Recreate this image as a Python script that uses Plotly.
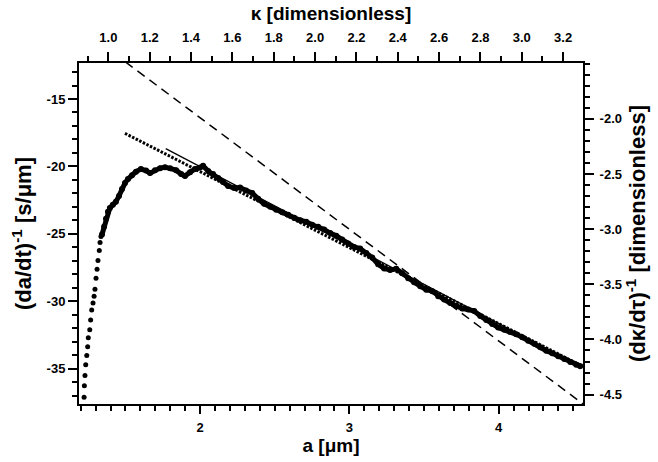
import plotly.graph_objects as go

# ---- data ----
# early, sparsely sampled part of the measured curve
sparse_a = [1.223, 1.225, 1.229, 1.234, 1.241, 1.247, 1.251, 1.261, 1.267, 1.274,
            1.283, 1.290, 1.296, 1.303, 1.310, 1.316, 1.325, 1.330, 1.336]
sparse_y = [-37.13, -36.27, -35.52, -34.71, -34.04, -33.38, -32.72, -32.13, -31.39, -30.66,
            -30.14, -29.63, -29.11, -28.30, -27.64, -26.98, -26.24, -25.65, -25.21]

# densely sampled part of the measured curve
dense_a = [1.343, 1.357, 1.370, 1.383, 1.396, 1.416, 1.436, 1.457, 1.477, 1.497,
           1.517, 1.544, 1.571, 1.604, 1.638, 1.665, 1.698, 1.732, 1.765, 1.799,
           1.839, 1.873, 1.899, 1.933, 1.966, 2.000, 2.020, 2.054, 2.087, 2.121,
           2.154, 2.188, 2.228, 2.268, 2.308, 2.349, 2.389, 2.429, 2.470, 2.510,
           2.550, 2.590, 2.631, 2.671, 2.711, 2.751, 2.791, 2.831, 2.871, 2.912,
           2.952, 2.992, 3.032, 3.072, 3.113, 3.153, 3.193, 3.233, 3.273, 3.314,
           3.354, 3.394, 3.434, 3.475, 3.515, 3.555, 3.595, 3.635, 3.676, 3.716,
           3.756, 3.796, 3.836, 3.877, 3.917, 3.957, 3.997, 4.038, 4.078, 4.118,
           4.158, 4.198, 4.239, 4.279, 4.319, 4.359, 4.399, 4.440, 4.480, 4.520, 4.547]
dense_y = [-25.06, -24.47, -23.89, -23.37, -23.08, -22.85, -22.63, -22.19, -21.67, -21.24,
           -20.94, -20.65, -20.39, -20.20, -20.31, -20.50, -20.28, -20.13, -20.06, -20.13,
           -20.28, -20.57, -20.72, -20.43, -20.20, -20.09, -19.96, -20.35, -20.57, -20.87,
           -21.16, -21.46, -21.60, -21.57, -21.79, -21.97, -22.41, -22.78, -23.00, -23.22,
           -23.41, -23.59, -23.81, -24.00, -24.11, -24.33, -24.47, -24.69, -24.95, -25.14,
           -25.43, -25.73, -25.98, -26.09, -26.42, -26.76, -27.27, -27.57, -27.68, -27.60,
           -27.93, -28.30, -28.60, -28.89, -29.15, -29.26, -29.63, -29.88, -30.14, -30.36,
           -30.55, -30.62, -30.73, -31.10, -31.39, -31.69, -31.95, -32.13, -32.28, -32.46,
           -32.68, -32.94, -33.16, -33.42, -33.68, -33.86, -34.08, -34.30, -34.52, -34.71, -34.82]

# fitted / reference lines (end points)
dotted_a = [1.497, 4.547]
dotted_y = [-17.55, -34.75]
solid_a = [1.770, 4.547]
solid_y = [-18.68, -34.85]
dashed_a = [1.500, 4.580]
dashed_y = [-12.25, -37.75]

# axis ranges and tick labels
a_range = [1.189, 4.565]
kappa_range = [0.858, 3.296]
left_range = [-37.63, -12.33]
right_range = [-4.585, -1.494]
left_tickvals = [-35, -30, -25, -20, -15]
left_ticktext = ["-35", "-30", "-25", "-20", "-15"]
right_tickvals = [-4.5, -4.0, -3.5, -3.0, -2.5, -2.0]
right_ticktext = ["-4.5", "-4.0", "-3.5", "-3.0", "-2.5", "-2.0"]

FONT = "Liberation Sans, Arial, Helvetica, sans-serif"
BLACK = "#000000"

fig = go.Figure()
fig.add_trace(go.Scatter(x=dashed_a, y=dashed_y, mode="lines",
                         line=dict(color=BLACK, width=1.5, dash="9px,6px"),
                         showlegend=False, hoverinfo="skip"))
fig.add_trace(go.Scatter(x=dotted_a, y=dotted_y, mode="lines",
                         line=dict(color=BLACK, width=3, dash="2.5px,1.5px"),
                         showlegend=False))
fig.add_trace(go.Scatter(x=solid_a, y=solid_y, mode="lines",
                         line=dict(color=BLACK, width=1.3),
                         showlegend=False))
fig.add_trace(go.Scatter(x=sparse_a, y=sparse_y, mode="markers",
                         marker=dict(color=BLACK, size=5),
                         showlegend=False))
fig.add_trace(go.Scatter(x=dense_a, y=dense_y, mode="lines+markers",
                         line=dict(color=BLACK, width=5),
                         marker=dict(color=BLACK, size=6),
                         showlegend=False))
# invisible trace to activate the secondary axes
fig.add_trace(go.Scatter(x=kappa_range, y=right_range, xaxis="x2", yaxis="y2",
                         mode="markers", marker=dict(opacity=0), showlegend=False,
                         hoverinfo="skip"))

tickfont = dict(family=FONT, size=13, color=BLACK, weight="bold")
xtitlefont = dict(family=FONT, size=19, color=BLACK, weight="bold")
ytitlefont = dict(family=FONT, size=22, color=BLACK, weight="bold")

common = dict(showgrid=False, zeroline=False, showline=True, linecolor=BLACK,
              linewidth=2, ticks="outside", tickcolor=BLACK, tickwidth=2,
              ticklen=9, tickfont=tickfont)
minor_common = dict(ticklen=5, tickwidth=2, tickcolor=BLACK, ticks="outside")

fig.update_layout(
    width=658, height=462,
    margin=dict(l=79, r=75, t=63, b=55),
    paper_bgcolor="white", plot_bgcolor="white",
    font=dict(family=FONT, color=BLACK),
    xaxis=dict(range=a_range, dtick=1, tick0=0,
               minor=dict(dtick=0.1, **minor_common),
               title=dict(text="a [μm]", font=xtitlefont, standoff=2),
               ticklabelstandoff=2,
               **{**common, "ticklen": 8}),
    xaxis2=dict(range=kappa_range, overlaying="x", side="top", anchor="y",
                dtick=0.2, tick0=0, tickformat=".1f",
                minor=dict(dtick=0.1, **minor_common),
                ticklabelstandoff=5,
                title=dict(text="κ [dimensionless]", font=xtitlefont, standoff=4),
                **common),
    yaxis=dict(range=left_range, tickvals=left_tickvals, ticktext=left_ticktext,
               minor=dict(tickvals=list(range(-37, -12)), **minor_common),
               title=dict(text="(da/dt)<sup>-1</sup> [s/μm]", font=ytitlefont, standoff=9),
               **common),
    yaxis2=dict(range=right_range, overlaying="y", side="right", anchor="x",
                tickvals=right_tickvals, ticktext=right_ticktext,
                minor=dict(dtick=0.1, tick0=0, **minor_common),
                ticklabelstandoff=3,
                title=dict(text="(dκ/dτ)<sup>-1</sup> [dimensionless]", font=ytitlefont, standoff=6),
                **common),
)

fig.write_html("out.html", config={"displayModeBar": False},
               post_script="document.body.style.margin='0';document.body.style.overflow='hidden';")
